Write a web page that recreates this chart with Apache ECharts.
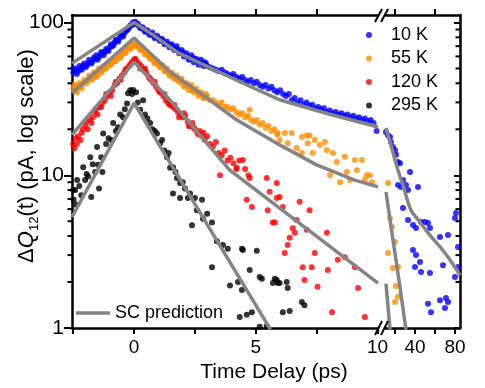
<!DOCTYPE html>
<html><head><meta charset="utf-8">
<script src="https://cdn.jsdelivr.net/npm/echarts@6/dist/echarts.min.js"></script>
<style>html,body{margin:0;padding:0;background:#fff}#c{width:485px;height:388px}</style>
</head><body><div id="c"></div>
<script>
// ---------- data (time in ps, signal in pA) ----------
const seriesNames = ['10 K', '55 K', '120 K', '295 K'];
const yMajorTicks = [1, 10, 100];
const yMinorTicks = [2,3,4,5,6,7,8,9,20,30,40,50,60,70,80,90];
const xLeftTicks = [-2.5, 0, 2.5, 5, 7.5, 10];
const xLeftLabels = [0, 5, 10];
const xLeftTopTicks = [0, 2.5, 5, 7.5];
const xRightTicks = [20, 40, 60, 80];
const xRightLabels = [40, 80];
const xRightTopTicks = [20, 60];

const blue10K = [
[-2.5,47],[-2.4,49],[-2.3,48],[-2.2,50],[-2.1,52],[-2.0,51],[-1.9,54],[-1.8,55],[-1.7,56],[-1.6,58],[-1.5,57],[-1.4,61],[-1.3,63],[-1.2,64],[-1.1,66],[-1.0,69],[-0.9,70],[-0.8,74],[-0.7,76],[-0.6,79],[-0.5,82],[-0.4,85],[-0.3,89],[-0.2,93],[-0.1,96],[0.0,99],[0.1,97],
[0.2,95],[0.3,92],[0.4,90],[0.5,88],[0.6,85],[0.7,84],[0.8,82],[0.9,80],[1.0,79],[1.1,77],[1.2,75],[1.3,73],[1.4,72],[1.5,71],[1.6,68],[1.7,68],[1.8,66],[1.9,64],[2.0,64],[2.1,61],[2.2,60],[2.3,58],[2.4,59],[2.5,57],[2.6,56],[2.7,55],[2.8,54],[2.9,55],[3.0,52],
[-2.45,50],[-2.35,46],[-2.25,52],[-2.15,49],[-2.05,54],[-1.95,52],[-1.85,57],[-1.75,54],[-1.65,59],[-1.55,61],[-1.45,59],[-1.35,64],[-1.25,61],[-1.15,67],[-1.05,65],[-0.95,72],[-0.85,71],[-0.75,77],[-0.65,75],[-0.55,82],[-0.45,81],[-0.35,88],[-0.25,90],[-0.15,96],[-0.05,100],[0.05,101],[0.15,98],[0.25,92],[0.35,93],[0.45,87],[0.55,89],[0.65,83],[0.75,86],[0.85,79],[0.95,82],[1.05,76],[1.15,78],[1.25,72],[1.35,75],[1.45,69],[1.55,72],[1.65,66],[1.75,70],[1.85,63],[1.95,66],[2.05,60],[2.15,63],[2.25,57],[2.35,61],[2.45,55],[2.55,58],[2.65,53],[2.75,57],[2.85,52],[2.95,54],
[3.12,51],[3.24,50],[3.36,49],[3.48,48],[3.6,49],[3.72,47],[3.84,46],[3.96,45],[4.08,46],[4.2,44],[4.32,43],[4.44,44],[4.56,42],[4.68,41],[4.8,42],[4.92,40],[5.04,41],[5.16,39],[5.28,38],[5.4,39],[5.52,37],[5.64,38],[5.76,36],[5.88,35],[6.0,36],[6.12,34],[6.24,33],[6.36,34],[6.48,31],[6.6,32],[6.72,30],[6.84,31],[6.96,29],[7.08,30],[7.2,28.5],[7.32,29],[7.44,27.5],[7.56,28],[7.68,27],[7.8,27.5],[7.92,26],[8.04,26.5],[8.16,25.5],[8.28,26],[8.4,25],[8.52,25.5],[8.64,24.5],[8.76,25],[8.88,24],[9.0,24.5],[9.12,23.5],[9.24,24],[9.36,23],[9.48,23.5],[9.6,22.5],[9.72,23],[9.84,22],[9.96,19.5]
];
const blue10KLate = [
[11,19.2],[13,18.3],[15,17.8],[16,16.5],[18,15.3],[20,14.6],[21,13.6],[23,12.2],[25,12.0],[35,10.5],[28,9.31],[23,8.63],[26,8.38],[31,8.63],[33,8.0],[43,8.38],[28,6.1],[33,5.1],[38,4.72],[41,4.52],[46,4.94],[50,4.94],[53,4.87],[55,4.52],[65,3.94],[73,4.06],[80,5.25],[81,5.66],[83,3.39],[38,3.24],[41,3.0],[45,2.70],[40,2.51],[46,2.33],[55,2.29],[68,2.58],[80,2.16],[83,2.51],[53,1.44],[56,1.27],[65,1.52],[71,1.57],[73,1.48],[70,1.35]
];
const orange55K = [
[-2.5,37],[-2.4,36],[-2.3,39],[-2.2,38],[-2.1,40],[-2.0,41],[-1.9,42],[-1.8,44],[-1.7,43],[-1.6,46],[-1.5,45],[-1.4,48],[-1.3,49],[-1.2,50],[-1.1,52],[-1.0,53],[-0.9,55],[-0.8,56],[-0.7,58],[-0.6,60],[-0.5,62],[-0.4,64],[-0.3,66],[-0.2,69],[-0.1,70],[0.0,72],[0.1,71],
[-2.45,39],[-2.35,35],[-2.25,40],[-2.15,37],[-2.05,42],[-1.95,40],[-1.85,45],[-1.75,42],[-1.65,47],[-1.55,44],[-1.45,50],[-1.35,47],[-1.25,52],[-1.15,50],[-1.05,55],[-0.95,53],[-0.85,58],[-0.75,56],[-0.65,61],[-0.55,59],[-0.45,65],[-0.35,63],[-0.25,68],[-0.15,67],[-0.05,73],[0.05,70],[0.15,70],[0.25,66],[0.35,68],[0.45,62],[0.55,63],[0.65,58],[0.75,59],[0.85,54],[0.95,56],[1.05,51],[1.15,53],[1.25,48],[1.35,50],[1.45,45],[1.55,47],[1.65,43],[1.75,45],[1.85,41],[1.95,43],[2.05,38],[2.15,40],[2.25,36],[2.35,39],[2.45,35],[2.55,37],[2.65,33],[2.75,35],[2.85,32],[2.95,34],
[0.2,69],[0.3,67],[0.4,65],[0.5,62],[0.6,60],[0.7,59],[0.8,56],[0.9,55],[1.0,53],[1.1,52],[1.2,50],[1.3,48],[1.4,47],[1.5,46],[1.6,44],[1.7,43],[1.8,42],[1.9,41],[2.0,40],[2.1,39],[2.2,38],[2.3,38],[2.4,36],[2.5,36],[2.6,35],[2.7,34],[2.8,34],[2.9,32],[3.0,33],[3.12,31],[3.24,31],[3.36,30],[3.48,29],[3.6,30],[3.72,28],[3.84,28],[3.96,27],[4.08,27.5],[4.2,26],[4.32,25],[4.44,25.5],[4.56,24],[4.68,24.5],[4.8,23],[4.75,26.8],[4.92,22.5],[5.04,23],[5.16,21.5],[5.28,22],[5.4,20.5],[5.52,21],[5.64,19.5],[5.76,20],[5.88,18.5],
[5.9,18.9],[6.2,18.9],[6.48,18.9],[5.98,17],[6.31,16.2],[6.68,15.1],[6.89,17.8],[6.89,14.0],[7.09,18.2],[7.21,18.2],[7.13,16.2],[7.34,14.0],[7.42,17.0],[7.63,15.8],[7.84,16.5],[7.92,14.6],[8.17,14.0],[8.33,12.2],[8.66,13.2],[8.05,10.0],[8.46,9.0],[8.74,10.5],[8.87,9.3],[9.07,12.6],[9.15,10.8],[9.36,12.6],[9.48,9.3],[9.56,10.0],[9.69,10.0],[9.77,9.0]
];
const orange55KLate = [
[13,8.9],[15,5.25],[17,4.58],[20,3.66],[13,3.1],[18,2.47],[23,2.51],[21,1.88],[23,1.6],[20,1.48]
];
const red120K = [
[-2.5,16],[-2.45,15],[-2.4,17.5],[-2.3,18],[-2.2,17],[-2.1,20],[-2.0,21],[-1.9,20],[-1.8,23],[-1.7,24],[-1.6,26],[-1.5,25],[-1.4,28],[-1.3,30],[-1.2,31],[-1.1,33],[-1.0,35],[-0.9,36],[-0.8,39],[-0.7,40],[-0.6,43],[-0.5,45],[-0.4,47],[-0.3,50],[-0.2,52],[-0.1,55],[0.0,57],[0.1,56],
[-2.35,16],[-2.15,19],[-1.95,22.5],[-1.75,22],[-1.55,27.5],[-1.35,28],[-1.15,34],[-0.95,33],[-0.75,41],[-0.55,42],[-0.35,49],[-0.15,53],[0.05,58],[0.25,50],[0.45,50],[0.65,43],[0.85,41],[1.05,35],[1.25,34],[1.45,29],[1.65,29],[1.85,24],[2.05,25.5],[2.25,21],[2.45,20.5],[2.65,18.5],[2.85,19],
[0.2,54],[0.3,52],[0.4,49],[0.5,47],[0.6,44],[0.7,42],[0.8,40],[0.9,38],[1.0,36],[1.1,35],[1.2,33],[1.3,31],[1.4,30],[1.5,29],[1.6,28],[1.7,27],[1.8,26],[1.9,25],[2.0,24],[2.1,24.5],[2.2,22.5],[2.3,21],[2.4,22],[2.5,20],[2.6,19],[2.7,19.5],[2.8,18],[2.9,17],[3.0,18],[3.12,16],[3.24,15.5],[3.36,16.5],[3.48,14],[3.6,13.5],[3.72,14.5],[3.84,12.5],[3.96,13],[4.08,12],[4.2,11],[4.32,12.5],[4.47,12.6],[4.56,11],[4.7,10],
[3.53,10.0],[4.22,11.2],[4.75,9.6],[5.45,9.6],[4.63,6.9],[4.84,6.2],[5.57,7.8],[5.49,5.9],[5.7,4.9],[5.86,7.1],[5.86,8.9],[5.98,7.2],[6.11,6.2],[6.8,6.7],[7.21,5.9],[6.68,5.1],[7.09,4.4],[6.52,4.5],[6.6,4.2],[6.39,3.9],[6.31,3.5],[6.19,3.1],[7.42,3.1],[7.92,4.2],[6.93,2.5],[7.3,2.5],[7.0,2.06],[7.96,2.4],[8.37,2.8],[8.66,2.9],[9.07,2.5],[7.54,1.86],[9.2,1.83],[8.13,1.27],[9.48,1.18],[5.78,4.9]
];
const black295K = [
[-2.5,8],[-2.48,6.9],[-2.42,8],[-2.38,6.4],[-2.34,9.3],[-2.25,8.5],[-2.17,7.4],[-2.09,11.3],[-2.01,9.3],[-1.95,10.2],[-1.89,9.8],[-1.8,13.1],[-1.76,7.2],[-1.7,11.8],[-1.6,10.5],[-1.52,15.3],[-1.48,11.7],[-1.44,8.2],[-1.35,13.1],[-1.3,10.5],[-1.27,18.8],[-1.15,16],[-1.05,17.5],[-0.94,17],[-0.86,22],[-0.75,19.5],[-0.66,20.6],[-0.57,25],[-0.45,24],[-0.38,27],[-0.29,29.5],[-0.25,34.4],[-0.16,36],[-0.08,34],[-0.04,36.2],[0.08,35],
[0.15,30],[0.25,26.8],[0.37,31],[0.45,25],[0.55,23.5],[0.66,22],[0.75,20],[0.85,19.5],[0.94,18.8],[1.07,16.2],[1.15,17],[1.25,14.5],[1.35,13.1],[1.42,14],[1.48,11.2],[1.6,11.3],[1.6,7.6],[1.7,10.5],[1.76,9.6],[1.89,8.9],[1.89,7.1],[2.0,9],[2.09,8.2],[2.21,7.1],[2.3,7.6],[2.38,4.7],[2.5,7.1],[2.58,5.9],[2.79,6.9],[2.83,5.2],[3.0,5.6],[3.2,4.9],[3.2,2.5],[3.4,3.7],[3.65,3.5],[3.85,3.3],[3.94,1.9],[4.27,2.0],[4.34,1.18],[4.43,3.3],[4.43,1.77],[4.47,3.24],[4.63,1.22],[4.75,2.4],[4.84,1.27],[5.04,3.2],[5.16,2.16],[5.16,1.02],[5.25,2.1],[5.45,1.03],[5.7,1.97],[5.78,2.1],[5.86,2.06],[5.9,1.97],[5.98,1.97],[6.11,1.27],[6.27,2.0],[6.31,1.83],[6.39,1.29],[6.89,1.48],[7.0,1.41]
];
// SC prediction curves
const fit10K = [[-2.55,54],[0,100],[0.8,82.5],[1.8,63.5],[3,51.6],[4.63,39],[6,31.1],[8,25.2],[10.02,20.7]];
const fit10KLate = [[11,20.4],[15,16.5],[23,10.8],[29,8.2],[36,5.9],[44,5.03],[53,4.19],[70,3.1],[85,2.22]];
const fit55K = [[-2.55,34.5],[0,79.2],[1.48,47.4],[2.83,33.5],[4.22,23],[5.98,15.8],[7.5,11.7],[9.06,9.3],[10.02,8.4]];
const fit55KLate = [[11,7.77],[18,3.77],[25,1.85],[31,0.97]];
const fit120K = [[-2.55,18.4],[0,55.1],[1.48,31],[3.93,10.8],[5.98,6.1],[10.02,1.97]];
const fit120KLate = [[11,1.95],[15,0.98]];
const fit295K = [[-2.55,5.33],[0,29.7],[5.6,0.98]];

// ---------- chart ----------
const FONT = '"Liberation Sans", Arial, sans-serif';
const colors = {'10 K':'#0000ff','55 K':'#ff8c00','120 K':'#ff0000','295 K':'#000000'};
const GRAY = '#848484';
const X_LEFT_MIN = -2.55, X_LEFT_MAX = 10.02, X_RIGHT_MIN = 11, X_RIGHT_MAX = 85;

function dots(name, data, right) {
  return {name, type:'scatter', data, xAxisIndex: right?2:0, yAxisIndex: right?1:0,
    symbolSize:6, itemStyle:{color:colors[name]}, z:2, silent:true, clip:true};
}
function fit(data, right, smooth) {
  return {name:'SC prediction', type:'line', data, xAxisIndex: right?2:0, yAxisIndex: right?1:0,
    symbol:'none', showSymbol:false, smooth: smooth || false,
    lineStyle:{color:GRAY, width:3.5}, itemStyle:{color:GRAY},
    z:3, silent:true, clip:true};
}
const axisLine = {show:true, onZero:false, lineStyle:{color:'#000', width:2.5}};
const tickStyle = {color:'#000', width:2};
function xAx(grid, pos, min, max, ticks, labels, tickLen) {
  return {gridIndex:grid, type:'value', position:pos, min, max, axisLine,
    axisTick:{show:true, inside:false, length:tickLen, lineStyle:tickStyle, customValues:ticks},
    axisLabel: labels ? {show:true, customValues:labels, fontSize:19, fontFamily:FONT, color:'#000', margin:10} : {show:false},
    splitLine:{show:false}};
}
function yAx(grid, pos, tickLen, inside, labels) {
  return {gridIndex:grid, type:'log', logBase:10, min:1, max:112, position:pos, offset:0,
    axisLine,
    axisTick:{show:true, inside, length:tickLen, lineStyle:tickStyle, customValues:yMajorTicks},
    axisLabel: labels ? {show:true, customValues:labels, fontSize:21, fontFamily:FONT, color:'#000', margin:8} : {show:false},
    splitLine:{show:false}, minorTick:{show:false}};
}

const baseGraphic = [
  {type:'text', x:27, y:156, rotation:Math.PI/2, z:10,
   style:{text:'{n|Δ}{q|Q}{s|12}{n|(t) (pA, log scale)}', align:'center', verticalAlign:'middle',
     textAlign:'center', textVerticalAlign:'middle', fill:'#000',
     rich:{
       n:{fontSize:22, fontFamily:FONT, lineHeight:28, fill:'#000', color:'#000'},
       q:{fontSize:22, fontFamily:FONT, fontStyle:'italic', lineHeight:28, fill:'#000', color:'#000'},
       s:{fontSize:13, fontFamily:FONT, lineHeight:13, verticalAlign:'bottom', fill:'#000', color:'#000'}
     }}},
  {type:'text', x:274, y:372, z:10,
   style:{text:'Time Delay (ps)', fontSize:21, fontFamily:FONT, fill:'#000',
     align:'center', verticalAlign:'middle', textAlign:'center', textVerticalAlign:'middle'}},
  {type:'line', z:10, shape:{x1:375,y1:22,x2:382,y2:9}, style:{stroke:'#000', lineWidth:2}},
  {type:'line', z:10, shape:{x1:381,y1:22,x2:388,y2:9}, style:{stroke:'#000', lineWidth:2}},
  {type:'line', z:10, shape:{x1:375,y1:335,x2:382,y2:321}, style:{stroke:'#000', lineWidth:2}},
  {type:'line', z:10, shape:{x1:381,y1:335,x2:388,y2:321}, style:{stroke:'#000', lineWidth:2}}
];

const chart = echarts.init(document.getElementById('c'), null, {renderer:'canvas'});
chart.setOption({
  animation:false,
  backgroundColor:'#fff',
  grid:[
    {left:72, top:15, width:306, height:313, outerBoundsMode:'none'},
    {left:386, top:15, width:74, height:313, outerBoundsMode:'none'}
  ],
  xAxis:[
    xAx(0,'bottom',X_LEFT_MIN,X_LEFT_MAX,xLeftTicks,xLeftLabels,6),
    xAx(0,'top',X_LEFT_MIN,X_LEFT_MAX,xLeftTopTicks,null,6),
    xAx(1,'bottom',X_RIGHT_MIN,X_RIGHT_MAX,xRightTicks,xRightLabels,6),
    xAx(1,'top',X_RIGHT_MIN,X_RIGHT_MAX,xRightTopTicks,null,6)
  ],
  yAxis:[
    yAx(0,'left',8,false,yMajorTicks),
    yAx(1,'right',6,true,null)
  ],
  legend:[
    {data:seriesNames.map(n=>({name:n, icon:'circle'})), orient:'vertical', left:366, top:25,
     itemWidth:34, itemHeight:6, itemGap:3.5, padding:0, selectedMode:false,
     textStyle:{fontSize:18, fontFamily:FONT, color:'#000', lineHeight:20}},
    {data:[{name:'SC prediction', icon:'rect', itemStyle:{color:GRAY}}], left:76, top:303,
     itemWidth:34, itemHeight:3.5, padding:0, selectedMode:false,
     textStyle:{fontSize:18, fontFamily:FONT, color:'#000', lineHeight:20}}
  ],
  series:[
    dots('295 K', black295K, false),
    dots('120 K', red120K, false),
    dots('55 K', orange55K, false),
    dots('10 K', blue10K, false),
    dots('55 K', orange55KLate, true),
    dots('10 K', blue10KLate, true),
    fit(fit10K,false), fit(fit55K,false), fit(fit120K,false), fit(fit295K,false),
    fit(fit10KLate,true,0.4), fit(fit55KLate,true,0.3), fit(fit120KLate,true)
  ],
  graphic: baseGraphic
});

// minor ticks of the log axes, positioned through the axes' own scales
const tickEls = [];
const leftX = chart.convertToPixel({xAxisIndex:0}, X_LEFT_MIN);
const rightX = chart.convertToPixel({xAxisIndex:2}, X_RIGHT_MAX);
yMinorTicks.forEach(v => {
  const yl = chart.convertToPixel({yAxisIndex:0}, v);
  const yr = chart.convertToPixel({yAxisIndex:1}, v);
  tickEls.push({type:'line', z:10, silent:true, shape:{x1:leftX-4.5, y1:yl, x2:leftX, y2:yl}, style:{stroke:'#000', lineWidth:2}});
  tickEls.push({type:'line', z:10, silent:true, shape:{x1:rightX-4.5, y1:yr, x2:rightX, y2:yr}, style:{stroke:'#000', lineWidth:2}});
});
chart.setOption({graphic: baseGraphic.concat(tickEls)});
</script>
</body></html>
